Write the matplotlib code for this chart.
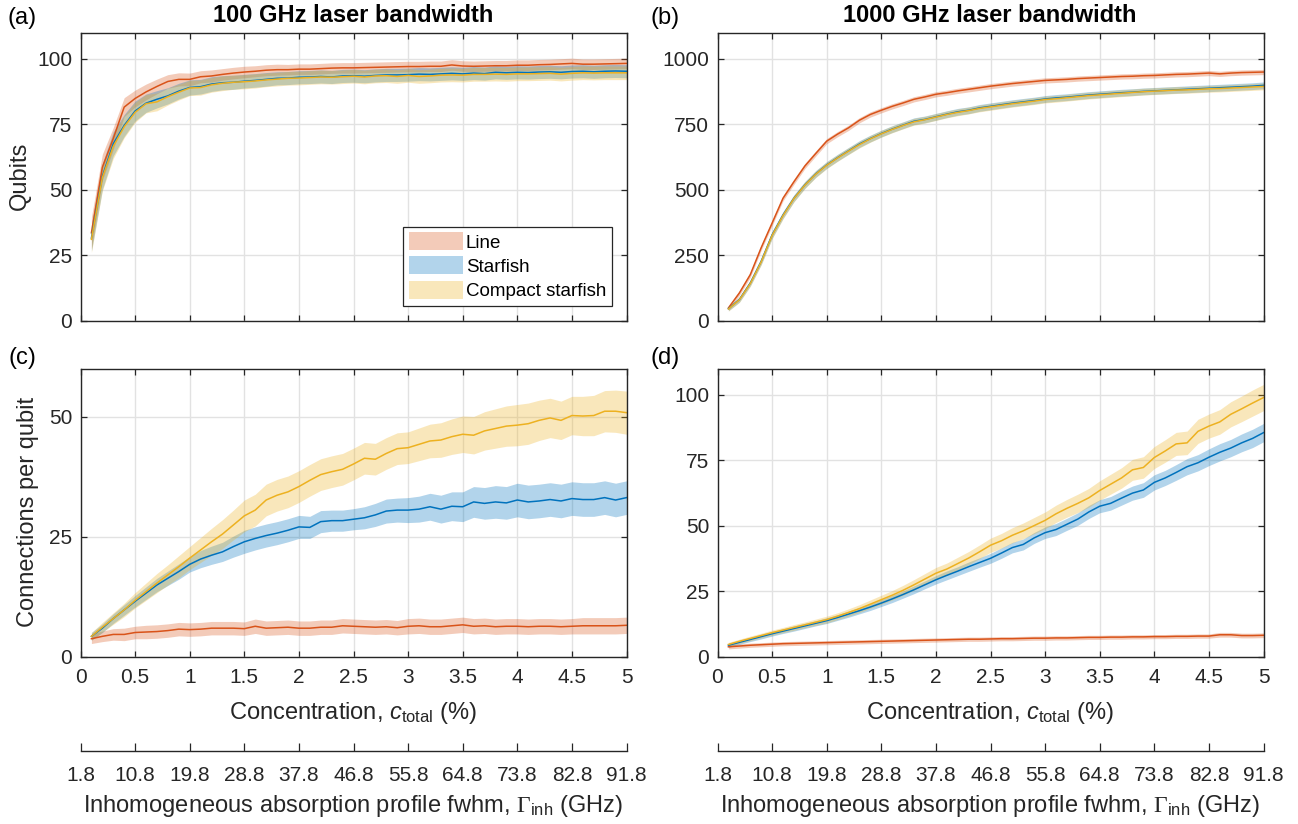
import numpy as np
import matplotlib
matplotlib.use("Agg")
import matplotlib.pyplot as plt
from matplotlib.patches import Patch

plt.rcParams["font.family"] = ["Liberation Sans", "DejaVu Sans"]
plt.rcParams["mathtext.fontset"] = "custom"
plt.rcParams["mathtext.rm"] = "Liberation Serif"
plt.rcParams["mathtext.sf"] = "Liberation Sans"
plt.rcParams["mathtext.it"] = "Liberation Sans:italic"

# concentration samples (%)
conc = np.linspace(0.1, 5.0, 50)

# (a) qubits, 100 GHz laser bandwidth
line_a = [33.5, 58.5, 69.5, 81.5, 84.8, 87.3, 89.4, 91.3, 92.1, 92.1,
          93.1, 93.4, 94.0, 94.5, 94.9, 95.2, 95.6, 95.8, 95.8, 96.0,
          96.0, 96.2, 96.4, 96.5, 96.5, 96.6, 96.7, 96.8, 96.9, 97.0,
          97.0, 97.1, 97.1, 97.6, 97.2, 97.1, 97.2, 97.3, 97.3, 97.5,
          97.5, 97.7, 97.8, 98.0, 98.2, 97.9, 97.9, 98.0, 98.1, 98.2]
star_a = [31.5, 55.0, 67.5, 74.5, 80.0, 83.0, 84.5, 85.8, 87.6, 89.0,
          89.3, 90.3, 90.8, 91.0, 91.4, 91.7, 92.1, 92.5, 92.6, 92.9,
          93.0, 93.2, 93.0, 93.4, 93.5, 93.3, 93.6, 93.8, 93.8, 93.9,
          94.1, 94.0, 94.2, 94.4, 94.2, 94.5, 94.3, 94.8, 94.6, 94.8,
          94.7, 94.9, 95.0, 94.8, 95.1, 95.2, 95.0, 95.2, 95.3, 95.2]
compact_a = [31.0, 54.5, 66.5, 74.0, 79.5, 82.8, 83.5, 85.5, 87.2, 88.8,
             89.0, 90.0, 90.6, 91.0, 91.2, 91.5, 91.9, 92.2, 92.5, 92.6,
             92.8, 93.0, 92.9, 93.1, 93.3, 93.0, 93.4, 93.5, 93.2, 93.6,
             93.2, 93.4, 93.7, 93.8, 93.7, 94.0, 94.0, 94.1, 94.0, 94.2,
             94.2, 94.3, 94.4, 94.1, 94.4, 94.6, 94.5, 94.6, 94.6, 94.6]
line_a_err = [6.0, 5.0, 4.2, 3.6, 3.2, 3.0, 2.8, 2.6, 2.5, 2.4,
              2.3, 2.3, 2.2, 2.2, 2.2, 2.1, 2.1, 2.1, 2.0, 2.0,
              2.0, 2.0, 2.0, 2.0, 2.0, 2.0, 2.0, 2.0, 2.0, 2.0,
              2.0, 2.0, 2.0, 2.0, 2.0, 2.0, 2.0, 2.0, 2.0, 2.0,
              2.0, 2.0, 2.0, 2.0, 2.0, 2.0, 2.0, 2.0, 2.0, 2.0]
star_a_err = [5.0, 5.0, 4.6, 4.2, 3.8, 3.5, 3.3, 3.1, 3.0, 2.9,
              2.8, 2.8, 2.7, 2.7, 2.6, 2.6, 2.6, 2.5, 2.5, 2.5,
              2.5, 2.5, 2.5, 2.5, 2.5, 2.5, 2.5, 2.5, 2.5, 2.5,
              2.5, 2.5, 2.5, 2.5, 2.5, 2.5, 2.5, 2.5, 2.5, 2.5,
              2.5, 2.5, 2.5, 2.5, 2.5, 2.5, 2.5, 2.5, 2.5, 2.5]
compact_a_err = [5.0, 5.0, 4.6, 4.2, 3.8, 3.5, 3.4, 3.2, 3.0, 2.9,
                 2.9, 2.8, 2.8, 2.7, 2.7, 2.7, 2.6, 2.6, 2.6, 2.6,
                 2.6, 2.6, 2.6, 2.6, 2.6, 2.6, 2.6, 2.6, 2.6, 2.6,
                 2.6, 2.6, 2.6, 2.6, 2.6, 2.6, 2.6, 2.6, 2.6, 2.6,
                 2.6, 2.6, 2.6, 2.6, 2.6, 2.6, 2.6, 2.6, 2.6, 2.6]

# (b) qubits, 1000 GHz laser bandwidth
line_b = [48, 105, 175, 278, 372, 467, 530, 590, 638, 685,
          712, 736, 765, 787, 803, 818, 831, 845, 854, 864,
          870, 877, 883, 889, 895, 900, 905, 909, 913, 917,
          919, 921, 924, 926, 928, 930, 932, 933, 935, 936,
          938, 940, 941, 943, 945, 942, 945, 947, 948, 949]
star_b = [45, 80, 143, 226, 327, 403, 467, 518, 560, 594,
          622, 648, 674, 695, 714, 731, 746, 761, 768, 778,
          788, 797, 803, 812, 818, 824, 830, 835, 840, 846,
          850, 853, 857, 861, 864, 867, 870, 872, 875, 877,
          879, 881, 883, 885, 887, 889, 891, 893, 895, 898]
compact_b = [44, 79, 141, 224, 325, 401, 466, 517, 559, 593,
             621, 647, 672, 694, 713, 730, 745, 759, 767, 777,
             787, 795, 802, 810, 816, 822, 828, 833, 838, 844,
             847, 851, 855, 859, 862, 865, 868, 871, 874, 876,
             878, 880, 881, 883, 885, 886, 888, 890, 892, 894]
line_b_err = [8, 9, 10, 10, 10, 10, 10, 10, 10, 10,
              10, 10, 10, 10, 10, 10, 10, 10, 10, 10,
              10, 10, 10, 10, 10, 10, 10, 10, 10, 10,
              10, 10, 10, 10, 10, 10, 10, 10, 10, 10,
              10, 10, 10, 10, 10, 10, 10, 10, 10, 10]
star_b_err = [8, 10, 11, 12, 13, 13, 13, 13, 13, 13,
              13, 13, 13, 13, 13, 13, 13, 13, 13, 13,
              13, 13, 13, 13, 13, 13, 13, 13, 13, 13,
              13, 13, 13, 13, 13, 13, 13, 13, 13, 13,
              13, 13, 13, 13, 13, 13, 13, 13, 13, 13]
compact_b_err = [8, 10, 11, 12, 13, 13, 13, 13, 13, 13,
                 13, 13, 13, 13, 13, 13, 13, 13, 13, 13,
                 13, 13, 13, 13, 13, 13, 13, 13, 13, 13,
                 13, 13, 13, 13, 13, 13, 13, 13, 13, 13,
                 13, 13, 13, 13, 13, 13, 13, 13, 13, 13]

# (c) connections per qubit, 100 GHz
line_c = [3.7, 4.2, 4.6, 4.6, 5.0, 5.1, 5.2, 5.4, 5.7, 5.6,
          5.7, 5.9, 5.9, 5.9, 5.8, 6.3, 5.9, 6.0, 6.1, 5.9,
          5.9, 6.1, 6.1, 6.4, 6.3, 6.2, 6.1, 6.2, 6.0, 6.3,
          6.4, 6.2, 6.2, 6.4, 6.6, 6.3, 6.4, 6.2, 6.3, 6.3,
          6.2, 6.3, 6.3, 6.2, 6.3, 6.4, 6.4, 6.4, 6.4, 6.5]
star_c = [4.2, 5.9, 7.9, 9.7, 11.5, 13.2, 14.9, 16.3, 17.7, 19.2,
          20.3, 21.1, 21.8, 22.9, 23.9, 24.6, 25.2, 25.7, 26.3, 27.0,
          26.9, 28.1, 28.3, 28.3, 28.6, 28.9, 29.5, 30.3, 30.5, 30.5,
          30.7, 31.2, 30.7, 31.3, 31.2, 32.2, 31.9, 32.2, 32.0, 32.6,
          32.2, 32.4, 32.7, 32.4, 32.9, 32.7, 32.7, 33.1, 32.6, 33.1]
compact_c = [4.2, 6.1, 7.9, 9.7, 11.7, 13.5, 15.3, 17.0, 18.7, 20.5,
             22.2, 23.9, 25.5, 27.4, 29.3, 30.5, 32.6, 33.6, 34.3, 35.4,
             36.7, 37.9, 38.5, 39.0, 40.1, 41.3, 41.1, 42.3, 43.3, 43.5,
             44.2, 44.9, 45.1, 45.8, 46.3, 46.1, 47.0, 47.5, 48.0, 48.2,
             48.5, 49.2, 49.7, 49.2, 50.2, 50.1, 50.2, 51.1, 51.1, 50.8]
line_c_err = [1.0, 1.1, 1.2, 1.3, 1.3, 1.4, 1.4, 1.4, 1.4, 1.4,
              1.4, 1.4, 1.4, 1.4, 1.4, 1.5, 1.5, 1.5, 1.5, 1.5,
              1.5, 1.5, 1.5, 1.5, 1.5, 1.5, 1.5, 1.5, 1.5, 1.6,
              1.6, 1.6, 1.6, 1.6, 1.6, 1.6, 1.6, 1.6, 1.6, 1.6,
              1.6, 1.6, 1.6, 1.6, 1.6, 1.7, 1.7, 1.7, 1.7, 1.7]
star_c_err = [0.8, 0.9, 1.0, 1.1, 1.2, 1.3, 1.4, 1.5, 1.6, 1.6,
              1.8, 1.9, 2.0, 2.2, 2.4, 2.4, 2.4, 2.4, 2.4, 2.4,
              2.3, 2.3, 2.2, 2.2, 2.2, 2.3, 2.4, 2.5, 2.5, 2.6,
              2.7, 2.8, 2.9, 3.0, 3.1, 3.2, 3.3, 3.4, 3.4, 3.5,
              3.5, 3.5, 3.5, 3.5, 3.5, 3.5, 3.5, 3.5, 3.5, 3.5]
compact_c_err = [0.8, 1.0, 1.2, 1.4, 1.6, 1.8, 2.0, 2.1, 2.3, 2.4,
                 2.6, 2.8, 3.0, 3.1, 3.3, 3.3, 3.3, 3.3, 3.3, 3.3,
                 3.3, 3.3, 3.3, 3.3, 3.3, 3.3, 3.3, 3.3, 3.3, 3.3,
                 3.4, 3.5, 3.6, 3.7, 3.8, 3.9, 4.0, 4.1, 4.2, 4.3,
                 4.3, 4.2, 4.1, 4.0, 4.0, 4.1, 4.2, 4.3, 4.4, 4.5]

# (d) connections per qubit, 1000 GHz
line_d = [3.7, 4.0, 4.3, 4.5, 4.7, 4.9, 5.0, 5.1, 5.2, 5.3,
          5.4, 5.5, 5.6, 5.7, 5.8, 5.9, 6.0, 6.1, 6.2, 6.3,
          6.4, 6.5, 6.6, 6.6, 6.7, 6.8, 6.8, 6.9, 7.0, 7.0,
          7.1, 7.1, 7.2, 7.3, 7.3, 7.4, 7.4, 7.5, 7.5, 7.6,
          7.6, 7.7, 7.7, 7.8, 7.8, 8.3, 8.3, 8.0, 8.0, 8.1]
star_d = [4.3, 5.4, 6.5, 7.6, 8.7, 9.7, 10.7, 11.7, 12.7, 13.7,
          14.9, 16.2, 17.5, 18.9, 20.4, 22.0, 23.7, 25.5, 27.4, 29.3,
          31.0, 32.6, 34.3, 35.9, 37.5, 39.5, 41.6, 42.8, 45.3, 47.3,
          48.5, 50.5, 52.5, 55.2, 57.4, 58.5, 60.5, 62.4, 63.6, 66.5,
          68.2, 70.3, 72.5, 74.0, 76.1, 78.0, 79.6, 81.6, 83.3, 85.5]
compact_d = [4.6, 5.8, 6.9, 8.0, 9.1, 10.1, 11.1, 12.1, 13.1, 14.1,
             15.4, 16.8, 18.3, 20.0, 21.7, 23.4, 25.3, 27.4, 29.6, 31.8,
             33.4, 35.5, 37.6, 40.0, 42.5, 44.2, 46.3, 48.0, 50.0, 52.0,
             54.5, 56.6, 58.5, 60.6, 63.4, 65.8, 68.2, 71.3, 72.2, 76.0,
             78.5, 81.2, 81.6, 86.0, 88.0, 89.6, 92.5, 94.6, 96.8, 98.9]
line_d_err = [0.8, 0.8, 0.8, 0.8, 0.8, 0.8, 0.8, 0.8, 0.8, 0.8,
              0.8, 0.8, 0.8, 0.8, 0.8, 0.8, 0.8, 0.8, 0.8, 0.8,
              0.8, 0.8, 0.8, 0.8, 0.8, 0.8, 0.8, 0.8, 0.8, 0.8,
              0.8, 0.8, 0.8, 0.8, 0.8, 0.8, 0.8, 0.8, 0.8, 0.8,
              0.8, 0.8, 0.8, 0.8, 0.8, 0.9, 0.9, 0.9, 0.9, 0.9]
star_d_err = [0.8, 0.8, 0.8, 0.9, 0.9, 0.9, 1.0, 1.0, 1.0, 1.1,
              1.1, 1.2, 1.2, 1.3, 1.3, 1.4, 1.4, 1.5, 1.5, 1.6,
              1.7, 1.7, 1.8, 1.8, 1.9, 2.0, 2.0, 2.1, 2.1, 2.2,
              2.3, 2.3, 2.4, 2.5, 2.5, 2.6, 2.7, 2.7, 2.8, 2.9,
              2.9, 3.0, 3.1, 3.1, 3.2, 3.3, 3.3, 3.4, 3.5, 3.5]
compact_d_err = [0.8, 0.8, 0.9, 0.9, 1.0, 1.0, 1.1, 1.1, 1.2, 1.3,
                 1.3, 1.4, 1.5, 1.6, 1.7, 1.8, 1.9, 2.0, 2.1, 2.2,
                 2.3, 2.4, 2.5, 2.6, 2.7, 2.8, 2.9, 3.0, 3.1, 3.2,
                 3.3, 3.4, 3.5, 3.6, 3.7, 3.8, 3.9, 4.0, 4.1, 4.2,
                 4.3, 4.4, 4.5, 4.6, 4.6, 4.7, 4.8, 4.9, 5.0, 5.0]

series_names = ["Line", "Starfish", "Compact starfish"]
colors = ["#D95319", "#0072BD", "#EDB120"]

conc_ticks = [0, 0.5, 1, 1.5, 2, 2.5, 3, 3.5, 4, 4.5, 5]
conc_ticklabels = ["0", "0.5", "1", "1.5", "2", "2.5", "3", "3.5", "4", "4.5", "5"]
fwhm_ticks = [1.8, 10.8, 19.8, 28.8, 37.8, 46.8, 55.8, 64.8, 73.8, 82.8, 91.8]

TICK_FS = 15
LABEL_FS = 17
LEG_FS = 13.5
DARK = "#262626"
W, H = 1298, 824


def rect(x0, y0, x1, y1):
    """pixel box (top-left origin) -> figure fraction rect"""
    return [x0 / W, 1 - y1 / H, (x1 - x0) / W, (y1 - y0) / H]


def style_axes(ax, ylim, yticks, show_xlabels):
    ax.set_xlim(0, 5)
    ax.set_ylim(*ylim)
    ax.set_xticks(conc_ticks)
    ax.set_xticklabels(conc_ticklabels if show_xlabels else [])
    ax.set_yticks(yticks)
    ax.grid(True, color="#e2e2e2", linewidth=1.0)
    ax.set_axisbelow(True)
    ax.tick_params(direction="in", top=True, right=True, length=4.5,
                   width=0.9, color=DARK, labelcolor=DARK, labelsize=TICK_FS)
    ax.tick_params(axis="y", pad=6)
    ax.tick_params(axis="x", pad=8)
    for sp in ax.spines.values():
        sp.set_color(DARK)
        sp.set_linewidth(1.0)


def draw_panel(ax, means, errs):
    for m, e, c in zip(means, errs, colors):
        m = np.array(m, float)
        e = np.array(e, float)
        ax.fill_between(conc, m - e, m + e, color=c, alpha=0.3, linewidth=0)
    for m, c in zip(means, colors):
        ax.plot(conc, m, color=c, linewidth=1.1)


fig = plt.figure(figsize=(W / 100, H / 100), dpi=100)

ax_a = fig.add_axes(rect(80.5, 32.5, 626.5, 320.5))
ax_b = fig.add_axes(rect(717.5, 32.5, 1263.5, 320.5))
ax_c = fig.add_axes(rect(80.5, 368.5, 626.5, 656.5))
ax_d = fig.add_axes(rect(717.5, 368.5, 1263.5, 656.5))

draw_panel(ax_a, [line_a, star_a, compact_a], [line_a_err, star_a_err, compact_a_err])
draw_panel(ax_b, [line_b, star_b, compact_b], [line_b_err, star_b_err, compact_b_err])
draw_panel(ax_c, [line_c, star_c, compact_c], [line_c_err, star_c_err, compact_c_err])
draw_panel(ax_d, [line_d, star_d, compact_d], [line_d_err, star_d_err, compact_d_err])

style_axes(ax_a, (0, 110), [0, 25, 50, 75, 100], False)
style_axes(ax_b, (0, 1100), [0, 250, 500, 750, 1000], False)
style_axes(ax_c, (0, 60), [0, 25, 50], True)
style_axes(ax_d, (0, 110), [0, 25, 50, 75, 100], True)

# legend with shaded patches only
handles = [Patch(facecolor=c, alpha=0.3, edgecolor="none") for c in colors]
leg = ax_a.legend(handles, series_names, loc="lower right",
                  bbox_to_anchor=(0.973, 0.052), borderaxespad=0,
                  fontsize=LEG_FS, handlelength=2.9, handleheight=1.1,
                  handletextpad=0.15, labelspacing=0.25, borderpad=0.3,
                  fancybox=False, framealpha=1)
leg.get_frame().set_edgecolor(DARK)
leg.get_frame().set_linewidth(0.9)

# secondary axes for the inhomogeneous linewidth
for x0 in (80.5, 717.5):
    sec = fig.add_axes(rect(x0, 750.5, x0 + 546, 750.6))
    sec.set_xlim(1.8, 91.8)
    sec.set_xticks(fwhm_ticks)
    sec.set_xticklabels([str(t) for t in fwhm_ticks])
    sec.set_yticks([])
    for k in ("left", "right", "top"):
        sec.spines[k].set_visible(False)
    sec.spines["bottom"].set_color(DARK)
    sec.spines["bottom"].set_linewidth(1.0)
    sec.patch.set_visible(False)
    sec.tick_params(axis="x", direction="in", length=6, width=0.9,
                    color=DARK, labelcolor=DARK, labelsize=TICK_FS, pad=11)

# axis labels and titles
fig.text(353 / W, 1 - 16 / H, "100 GHz laser bandwidth", ha="center", va="center",
         fontsize=LABEL_FS, fontweight="bold", color="black")
fig.text(990 / W, 1 - 16 / H, "1000 GHz laser bandwidth", ha="center", va="center",
         fontsize=LABEL_FS, fontweight="bold", color="black")
fig.text(20 / W, 1 - 176 / H, "Qubits", rotation=90, ha="center", va="center",
         fontsize=LABEL_FS, color=DARK)
fig.text(28 / W, 1 - 512 / H, "Connections per qubit", rotation=90, ha="center",
         va="center", fontsize=LABEL_FS, color=DARK)
for xc in (353, 990):
    fig.text(xc / W, 1 - 713 / H, r"Concentration, $c_{\mathsf{total}}$ (%)",
             ha="center", va="center", fontsize=LABEL_FS, color=DARK)
    fig.text(xc / W, 1 - 806 / H,
             r"Inhomogeneous absorption profile fwhm, $\Gamma_{\mathsf{inh}}$ (GHz)",
             ha="center", va="center", fontsize=LABEL_FS, color=DARK)

for lab, xp, yp in [("(a)", 22, 18), ("(b)", 665, 18), ("(c)", 22, 358), ("(d)", 665, 358)]:
    fig.text(xp / W, 1 - yp / H, lab, ha="center", va="center", fontsize=LABEL_FS,
             color="black")

fig.savefig("out.png", dpi=100)
